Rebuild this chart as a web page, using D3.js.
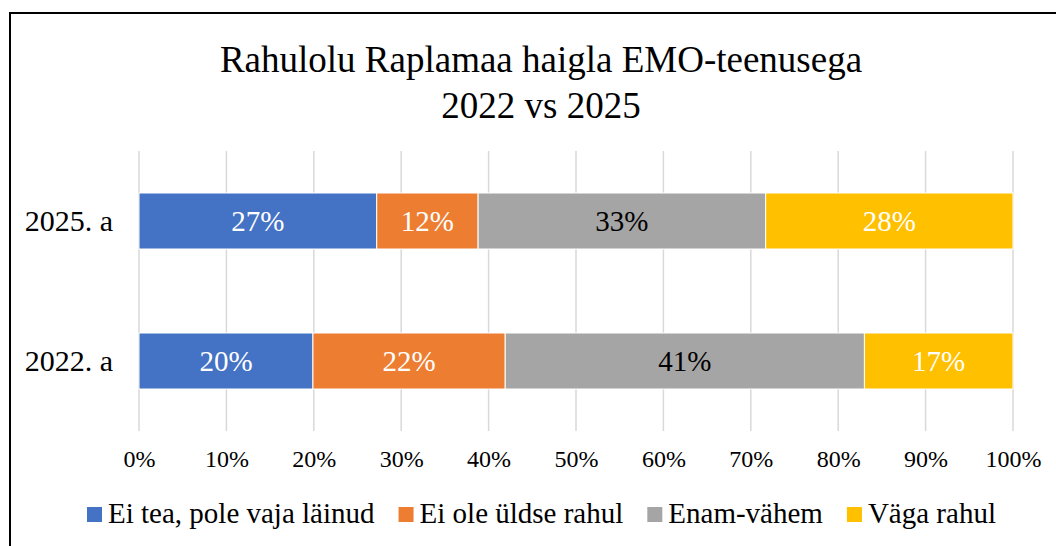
<!DOCTYPE html>
<html>
<head>
<meta charset="utf-8">
<script src="https://cdn.jsdelivr.net/npm/d3@7"></script>
<style>
  body { margin: 0; background: #fff; }
  svg { display: block; }
  text { font-family: "Liberation Serif", "Times New Roman", serif; }
</style>
</head>
<body>
<svg id="chart" width="1056" height="546"></svg>
<script>
// andmed (loetud pildilt)
var years = ["2025. a", "2022. a"];
var series = ["Ei tea, pole vaja läinud", "Ei ole üldse rahul", "Enam-vähem", "Väga rahul"];
var colors = ["#4472c4", "#ed7d31", "#a5a5a5", "#ffc000"];
var labelColors = ["#fff", "#fff", "#000", "#fff"];
var v2025 = [0.272, 0.116, 0.329, 0.283];
var v2022 = [0.199, 0.220, 0.411, 0.170];
var ticks = [0, 0.1, 0.2, 0.3, 0.4, 0.5, 0.6, 0.7, 0.8, 0.9, 1];

var svg = d3.select("#chart");
var font = "Liberation Serif, Times New Roman, serif";

// raam
svg.append("path")
  .attr("d", "M10,560 L10,13 L1070,13")
  .attr("fill", "none").attr("stroke", "#000").attr("stroke-width", 2);

// pealkiri
var title = svg.append("text").attr("text-anchor", "middle").attr("font-size", 37).attr("fill", "#000");
title.append("tspan").attr("x", 541).attr("y", 72).text("Rahulolu Raplamaa haigla EMO-teenusega");
title.append("tspan").attr("x", 541).attr("y", 118).text("2022 vs 2025");

var x = d3.scaleLinear().domain([0, 1]).range([139, 1013]);
var y = d3.scaleBand().domain(years).range([151, 431]).paddingInner(0.6).paddingOuter(0.3);

// ruudustik
svg.append("g").selectAll("line").data(ticks).enter().append("line")
  .attr("x1", function(d){ return x(d); }).attr("x2", function(d){ return x(d); })
  .attr("y1", 151).attr("y2", 431)
  .attr("stroke", "#d9d9d9").attr("stroke-width", 1.5);

// x telg
var xAxis = svg.append("g").attr("transform", "translate(0,431)")
  .call(d3.axisBottom(x).tickValues(ticks).tickFormat(d3.format(".0%")).tickSize(0).tickPadding(19));
xAxis.select(".domain").remove();
xAxis.attr("font-family", font);
xAxis.selectAll("text").attr("font-size", 24).attr("fill", "#000");

// y telg
var yAxis = svg.append("g").attr("transform", "translate(139,0)")
  .call(d3.axisLeft(y).tickSize(0).tickPadding(26));
yAxis.select(".domain").remove();
yAxis.attr("font-family", font);
yAxis.selectAll("text").attr("font-size", 30).attr("fill", "#000");

// tulbad
var rows = [{ year: "2025. a", vals: v2025 }, { year: "2022. a", vals: v2022 }];
var data = rows.map(function(r){
  var o = { year: r.year };
  series.forEach(function(s, i){ o[s] = r.vals[i]; });
  return o;
});
var stacked = d3.stack().keys(series)(data);

var groups = svg.append("g").selectAll("g").data(stacked).enter().append("g");
groups.each(function(s, i){
  var g = d3.select(this);
  g.selectAll("rect").data(s).enter().append("rect")
    .attr("x", function(d){ return x(d[0]); })
    .attr("y", function(d){ return y(d.data.year); })
    .attr("width", function(d){ return x(d[1]) - x(d[0]); })
    .attr("height", y.bandwidth())
    .attr("fill", colors[i])
    .attr("stroke", "#fff").attr("stroke-width", 1);
  g.selectAll("text").data(s).enter().append("text")
    .attr("x", function(d){ return (x(d[0]) + x(d[1])) / 2; })
    .attr("y", function(d){ return y(d.data.year) + y.bandwidth() / 2 + 10; })
    .attr("text-anchor", "middle").attr("font-size", 29)
    .attr("fill", labelColors[i])
    .text(function(d){ return d3.format(".0%")(d[1] - d[0]); });
});

// legend
var legend = svg.append("g");
var lx = 87;
series.forEach(function(s, i){
  var g = legend.append("g").attr("transform", "translate(" + lx + ",0)");
  g.append("rect").attr("x", 0).attr("y", 507).attr("width", 15).attr("height", 15).attr("fill", colors[i]);
  var t = g.append("text").attr("x", 21).attr("y", 523).attr("font-size", 29).attr("fill", "#000").text(s);
  lx += 21 + t.node().getComputedTextLength() + 24;
});
</script>
</body>
</html>
